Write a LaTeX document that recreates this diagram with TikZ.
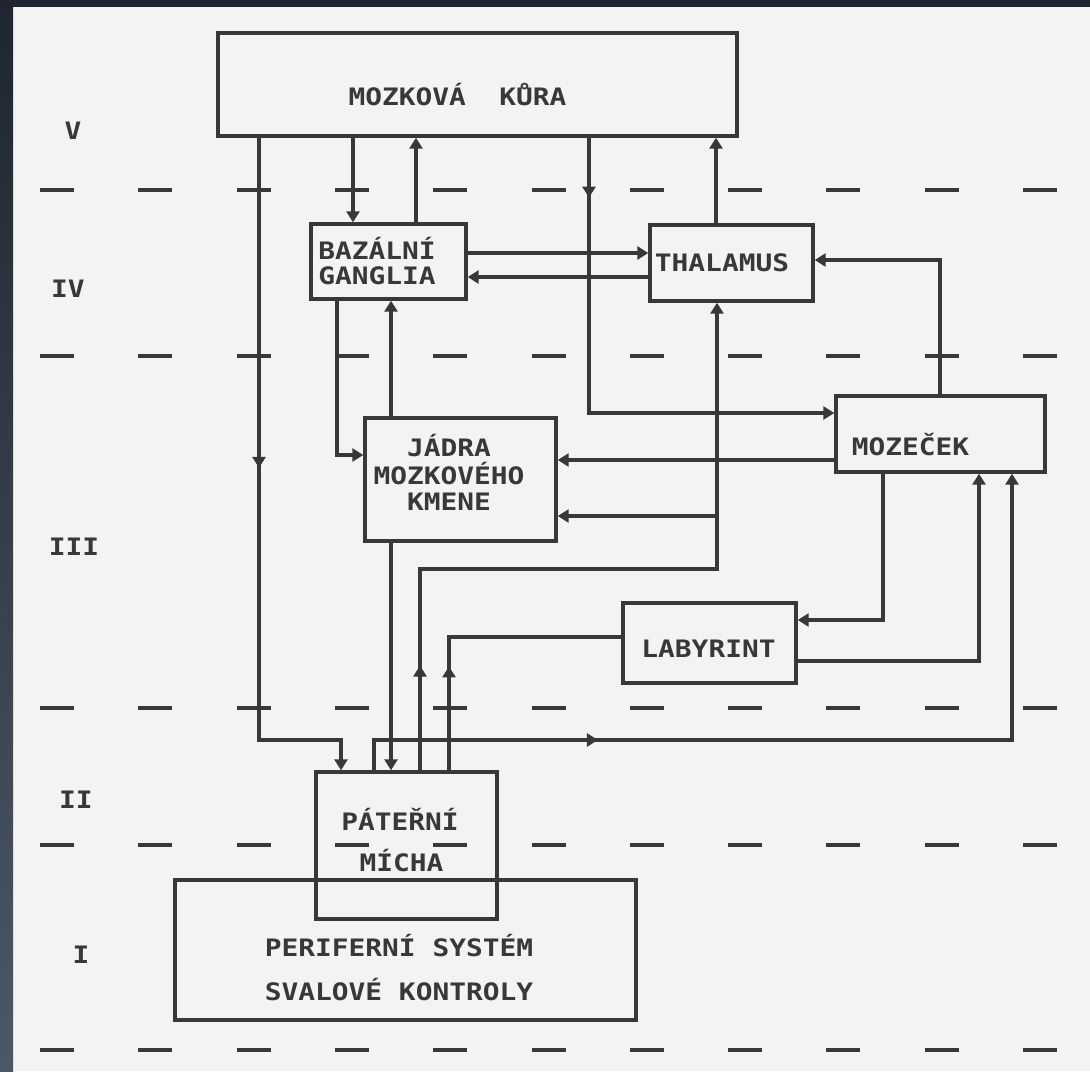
\documentclass[tikz,border=0pt]{standalone}
\usepackage{fontspec}
\usetikzlibrary{arrows.meta,decorations.markings}
\newfontfamily\lblfont[FakeStretch=1.16]{DejaVu Sans Mono}
\definecolor{ink}{HTML}{383838}
\definecolor{paper}{HTML}{F3F3F2}
\definecolor{frameTop}{HTML}{20262F}
\definecolor{frameBot}{HTML}{4A5868}
\newcommand\boxnode[5]{\node[box, minimum width=#4*0.5pt, minimum height=#5*0.5pt] (#1) at (#2,#3) {};}
\begin{document}
\begin{tikzpicture}[x=0.5pt,y=-0.5pt,
  box/.style={draw=ink, line width=1.7pt, inner sep=0pt},
  conn/.style={draw=ink, color=ink, line width=1.7pt, -{Triangle[length=5.5pt,width=6.5pt]}},
  midarrow/.style={postaction={decorate}, decoration={markings, mark=at position #1 with {\arrow{Triangle[length=5.5pt,width=6.5pt]}}}},
  lbl/.style={font=\lblfont\bfseries\fontsize{12}{14}\selectfont, text=ink, inner sep=0pt, anchor=base},
  dashline/.style={draw=ink, line width=1.7pt}]
\useasboundingbox (0,0) rectangle (1090,1071);
\fill[paper] (0,0) rectangle (1090,1071);
\shade[top color=frameTop, bottom color=frameBot] (0,0) rectangle (13,1071);
\fill[frameTop] (0,0) rectangle (1090,7);

% level separators
\foreach \yy in {190,356,708,845,1050}{
  \foreach \k in {0,...,10}{
    \draw[dashline] ({40+98.3*\k},\yy) -- ++(34,0);
  }
}

% level labels
\node[lbl] (lV)   at (73,139.5) {V};
\node[lbl] (lIV)  at (68,297.5) {IV};
\node[lbl] (lIII) at (74,555.5) {III};
\node[lbl] (lII)  at (76,808.5) {II};
\node[lbl] (lI)   at (81,963.5) {I};

% boxes
\boxnode{kura}{477.5}{84.5}{519}{103}
\boxnode{bg}{388.5}{261.5}{155}{75}
\boxnode{thal}{731.5}{263}{163}{76}
\boxnode{jadra}{460.5}{479.5}{191}{123}
\boxnode{moz}{940.5}{434}{209}{76}
\boxnode{lab}{709.5}{643}{173}{80}
\boxnode{pat}{406.5}{845.5}{181}{147}
\boxnode{per}{405.5}{950}{461}{140}

% texts
\node[lbl] (kuraT) at (457.5,105.5) {MOZKOVÁ~~KŮRA};
\node[lbl] (bgT1) at (377,259) {BAZÁLNÍ};
\node[lbl] (bgT2) at (377,284) {GANGLIA};
\node[lbl] (thalT) at (722,271.5) {THALAMUS};
\node[lbl] (jadT1) at (449,456.5) {JÁDRA};
\node[lbl] (jadT2) at (449,484.5) {MOZKOVÉHO};
\node[lbl] (jadT3) at (449,510.5) {KMENE};
\node[lbl] (mozT) at (910.5,455.5) {MOZEČEK};
\node[lbl] (labT) at (708.5,657.5) {LABYRINT};
\node[lbl] (patT1) at (400,830.5) {PÁTEŘNÍ};
\node[lbl] (patT2) at (401.5,871.5) {MÍCHA};
\node[lbl] (perT1) at (399,956.5) {PERIFERNÍ SYSTÉM};
\node[lbl] (perT2) at (399,1000.5) {SVALOVÉ KONTROLY};

% connectors
\draw[conn, midarrow=0.462] (259,0 |- kura.south) -- (259,740) -- (341,740) -- (341,0 |- pat.north);
\draw[conn] (353,0 |- kura.south) -- (353,0 |- bg.north);
\draw[conn] (416,0 |- bg.north) -- (416,0 |- kura.south);
\draw[conn, midarrow=0.115] (589,0 |- kura.south) -- (589,413) -- (moz.west |- 0,413);
\draw[conn] (716,0 |- thal.north) -- (716,0 |- kura.south);
\draw[conn] (bg.east |- 0,253) -- (thal.west |- 0,253);
\draw[conn] (thal.west |- 0,277) -- (bg.east |- 0,277);
\draw[conn] (940,0 |- moz.north) -- (940,260) -- (thal.east |- 0,260);
\draw[conn] (337,0 |- bg.south) -- (337,455) -- (jadra.west |- 0,455);
\draw[conn] (391,0 |- jadra.north) -- (391,0 |- bg.south);
\draw[conn] (moz.west |- 0,460) -- (jadra.east |- 0,460);
\draw[conn, midarrow=0.137] (420,0 |- pat.north) -- (420,569) -- (717,569) -- (717,0 |- thal.south);
\coordinate (br12) at (717,516);
\draw[conn] (br12) -- (jadra.east |- br12);
\draw[conn] (391,0 |- jadra.south) -- (391,0 |- pat.north);
\draw[conn, -, midarrow=0.34] (449,0 |- pat.north) -- (449,637) -- (lab.west |- 0,637);
\draw[conn] (883,0 |- moz.south) -- (883,620) -- (lab.east |- 0,620);
\draw[conn] (lab.east |- 0,661) -- (979,661) -- (979,0 |- moz.south);
\draw[conn, midarrow=0.272] (374,0 |- pat.north) -- (374,740) -- (1012,740) -- (1012,0 |- moz.south);
\end{tikzpicture}
\end{document}
